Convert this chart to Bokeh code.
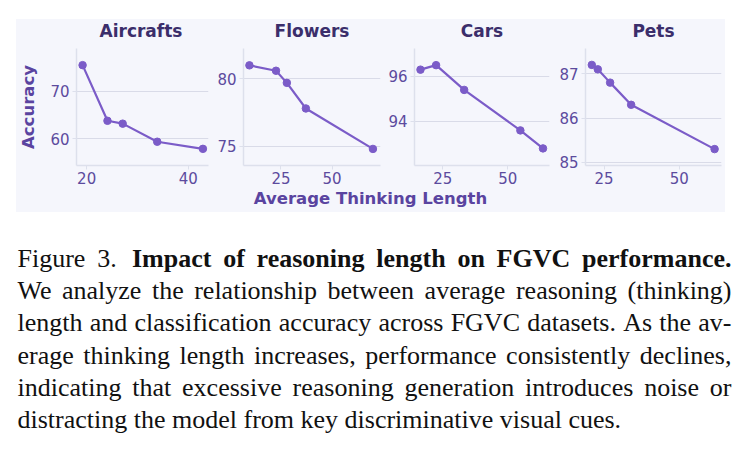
import glob
import os

from bokeh.plotting import figure
from bokeh.models import Range1d, FixedTicker, Spacer, ColumnDataSource
from bokeh.layouts import column, row
from bokeh.embed import file_html
from bokeh.resources import INLINE
from bokeh.core.properties import value

# ---------------- data ----------------
titles = ["Aircrafts", "Flowers", "Cars", "Pets"]
air_len = [19.2, 24.1, 27.1, 33.9, 42.9]
air_acc = [75.5, 63.8, 63.2, 59.4, 57.9]
flo_len = [9.6, 22.6, 27.9, 37.2, 70.0]
flo_acc = [81.0, 80.6, 79.7, 77.8, 74.8]
car_len = [16.4, 22.4, 33.2, 54.8, 63.5]
car_acc = [96.3, 96.5, 95.4, 93.6, 92.8]
pet_len = [20.9, 22.9, 27.0, 34.0, 61.8]
pet_acc = [87.2, 87.1, 86.8, 86.3, 85.3]
x_tick_values = [[20, 40], [25, 50], [25, 50], [25, 50]]
y_tick_values = [[60, 70], [75, 80], [94, 96], [85, 86, 87]]
x_label = "Average Thinking Length"
y_label = "Accuracy"
caption_lead = "Figure 3."
caption_title = "Impact of reasoning length on FGVC performance."
caption_body = [
    "We analyze the relationship between average reasoning (thinking)",
    "length and classification accuracy across FGVC datasets. As the av-",
    "erage thinking length increases, performance consistently declines,",
    "indicating that excessive reasoning generation introduces noise or",
    "distracting the model from key discriminative visual cues.",
]

# ---------------- styling / layout ----------------
PANEL = "#f5f6fc"
GRID = "#d9dbe8"
AXIS = "#dde0ec"
LINE = "#7b5cc8"
TITLE_C = "#3b2e6b"
TICK_C = "#5c4b9e"
LABEL_C = "#5a44a0"
FONT = "DejaVu Sans"

series = [(air_len, air_acc), (flo_len, flo_acc), (car_len, car_acc), (pet_len, pet_acc)]
x_lims = [(18.0, 44.0), (6.7, 73.7), (14.1, 66.0), (18.8, 64.1)]
y_lims = [(54.4, 79.0), (73.57, 82.25), (92.04, 97.24), (84.93, 87.57)]
widths = [194, 172, 169, 174]
b_left = [57, 33, 32, 34]
b_right = [2, 2, 2, 4]
PANEL_X0, PANEL_X1 = 16, 725
TOP = 19            # panel top (page px)
FRAME_TOP = 48      # plot frame top
FRAME_BOT = 165     # plot frame bottom
ROW_BOT = 189       # bottom of the plots row
PANEL_BOT = 212

# page-x centres of the plot frames (for the titles)
frame_centres = []
_x = PANEL_X0
for i in range(4):
    f0 = _x + b_left[i]
    f1 = _x + widths[i] - b_right[i]
    frame_centres.append((f0 + f1) / 2.0)
    _x += widths[i]


def strip_fig(y_top, y_bot):
    s = figure(width=PANEL_X1 - PANEL_X0, height=y_bot - y_top, output_backend="svg",
               toolbar_location=None, title=None,
               x_range=Range1d(PANEL_X0, PANEL_X1), y_range=Range1d(y_bot, y_top),
               min_border=0, x_axis_type=None, y_axis_type=None)
    s.background_fill_color = PANEL
    s.border_fill_color = PANEL
    s.outline_line_color = None
    s.grid.visible = False
    return s


# title strip
tstrip = strip_fig(TOP, FRAME_TOP)
tstrip.text(x=frame_centres, y=[30.5] * 4, text=titles, text_font=value(FONT), text_font_size="17px",
            text_font_style="bold", text_color=TITLE_C, text_align="center", text_baseline="alphabetic")

figs = []
for i in range(4):
    p = figure(width=widths[i], height=ROW_BOT - FRAME_TOP, output_backend="svg", toolbar_location=None,
               title=None, x_range=Range1d(*x_lims[i]), y_range=Range1d(*y_lims[i]),
               min_border_left=b_left[i], min_border_right=b_right[i],
               min_border_top=0, min_border_bottom=ROW_BOT - FRAME_BOT)
    p.background_fill_color = PANEL
    p.border_fill_color = PANEL
    p.outline_line_color = None
    p.xgrid.visible = False
    p.ygrid.grid_line_color = GRID
    p.ygrid.grid_line_width = 1
    p.xaxis.ticker = FixedTicker(ticks=x_tick_values[i])
    p.yaxis.ticker = FixedTicker(ticks=y_tick_values[i])
    for ax in (p.xaxis, p.yaxis):
        ax.axis_line_color = AXIS
        ax.axis_line_width = 1.5
        ax.major_tick_line_color = AXIS
        ax.major_tick_in = 0
        ax.major_tick_out = 4
        ax.minor_tick_line_color = None
        ax.major_label_text_font = FONT
        ax.major_label_text_font_size = "15px"
        ax.major_label_text_color = TICK_C
        ax.major_label_standoff = 3
    p.xaxis.major_label_standoff = 2
    if i == 0:
        p.yaxis.axis_label = y_label
        p.yaxis.axis_label_text_font = FONT
        p.yaxis.axis_label_text_font_size = "16.5px"
        p.yaxis.axis_label_text_font_style = "bold"
        p.yaxis.axis_label_text_color = LABEL_C
        p.yaxis.axis_label_standoff = 9
    xs, ys = series[i]
    src = ColumnDataSource(dict(x=xs, y=ys))
    p.line("x", "y", source=src, line_color=LINE, line_width=2.2)
    p.scatter("x", "y", source=src, size=7.5, fill_color=LINE, line_color=LINE)
    figs.append(p)

# strip with the shared x-axis label
xstrip = strip_fig(ROW_BOT, PANEL_BOT)
xstrip.text(x=[370], y=[198.0], text=[x_label], text_font=value(FONT), text_font_size="16.5px",
            text_font_style="bold", text_color=LABEL_C, text_align="center", text_baseline="alphabetic")

# ---------------- caption ----------------
CAP_SIZE = 26
CAP_LEFT, CAP_RIGHT = 17.0, 731.0
BASE0, LEAD = 257.8, 32.3


def find_font(name):
    for pat in ["/usr/share/fonts/**/" + name, "/usr/local/share/fonts/**/" + name,
                os.path.expanduser("~/.fonts/**/") + name,
                os.path.expanduser("~/.local/share/fonts/**/") + name]:
        r = glob.glob(pat, recursive=True)
        if r:
            return r[0]
    return None


try:
    from PIL import ImageFont
    _fr = ImageFont.truetype(find_font("LiberationSerif-Regular.ttf"), CAP_SIZE)
    _fb = ImageFont.truetype(find_font("LiberationSerif-Bold.ttf"), CAP_SIZE)

    def text_w(s, bold):
        return (_fb if bold else _fr).getlength(s)
except Exception:
    def text_w(s, bold):
        return len(s) * CAP_SIZE * (0.47 if bold else 0.43)

lines = [[(w, False) for w in caption_lead.split()] + [(w, True) for w in caption_title.split()]]
for ln in caption_body:
    lines.append([(w, False) for w in ln.split()])

reg = dict(x=[], y=[], text=[])
bold = dict(x=[], y=[], text=[])
space_w = text_w(" ", False)
for li, words in enumerate(lines):
    y = BASE0 + LEAD * li
    ws = [text_w(w, b) for w, b in words]
    weights = [1.0] * (len(words) - 1)
    if li == 0:
        weights[1] = 1.3  # slightly wider gap after "Figure 3."
    if li < len(lines) - 1:
        unit = (CAP_RIGHT - CAP_LEFT - sum(ws)) / sum(weights)
    else:
        unit = space_w
    x = CAP_LEFT
    for k, (w, b) in enumerate(words):
        d = bold if b else reg
        d["x"].append(x)
        d["y"].append(y)
        d["text"].append(w)
        x += ws[k] + (unit * weights[k] if k < len(weights) else 0)

cap = figure(width=746, height=452 - PANEL_BOT, output_backend="svg", toolbar_location=None, title=None,
             x_range=Range1d(0, 746), y_range=Range1d(452, PANEL_BOT),
             min_border=0, x_axis_type=None, y_axis_type=None)
cap.outline_line_color = None
cap.grid.visible = False
cap.background_fill_color = "white"
cap.border_fill_color = "white"
cap.text("x", "y", "text", source=ColumnDataSource(reg), text_font=value("Liberation Serif"),
         text_font_size=f"{CAP_SIZE}px", text_color="#111111", text_baseline="alphabetic", text_align="left")
cap.text("x", "y", "text", source=ColumnDataSource(bold), text_font=value("Liberation Serif"),
         text_font_size=f"{CAP_SIZE}px", text_font_style="bold", text_color="#111111",
         text_baseline="alphabetic", text_align="left")

panel = column(tstrip, row(*figs, spacing=0, styles={"background-color": PANEL}), xstrip,
               spacing=0, styles={"background-color": PANEL})

layout = column(
    Spacer(width=746, height=TOP),
    row(Spacer(width=PANEL_X0, height=PANEL_BOT - TOP), panel,
        Spacer(width=746 - PANEL_X1, height=PANEL_BOT - TOP), spacing=0),
    cap,
    spacing=0,
)

with open("out.html", "w") as f:
    f.write(file_html(layout, INLINE))
